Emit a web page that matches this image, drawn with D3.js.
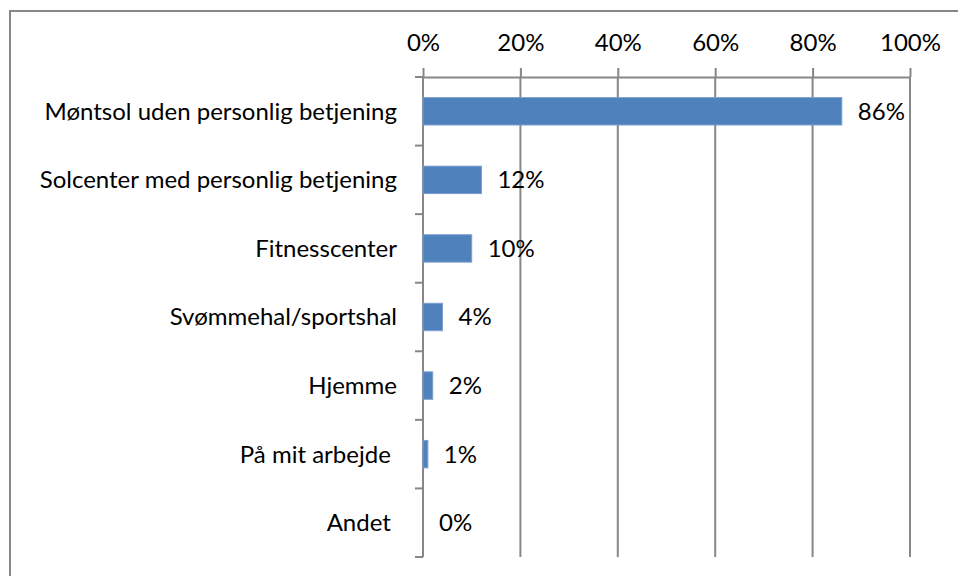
<!DOCTYPE html>
<html>
<head>
<meta charset="utf-8">
<script src="https://cdn.jsdelivr.net/npm/d3@7"></script>
<style>
  body { margin: 0; background: #fff; }
  svg { display: block; font-family: Lato, "Open Sans", sans-serif; }
</style>
</head>
<body>
<svg width="958" height="576"></svg>
<script>
const svg = d3.select('svg');

// data (two labels carry a trailing space, as in the source)
const categories = [
    'Møntsol uden personlig betjening',
    'Solcenter med personlig betjening',
    'Fitnesscenter',
    'Svømmehal/sportshal',
    'Hjemme',
    'På mit arbejde ',
    'Andet '
];
const values = [86, 12, 10, 4, 2, 1, 0];
const tickValues = [0, 20, 40, 60, 80, 100];

const plotLeft = 423, plotRight = 910, plotTop = 77, plotBottom = 557;
const grey = '#878787';
const fontSize = '24px';

// frame (only top and left show in the crop)
svg.append('path')
    .attr('d', 'M10,576V11H958')
    .attr('fill', 'none')
    .attr('stroke', grey)
    .attr('stroke-width', 2);

const x = d3.scaleLinear().domain([0, 100]).range([plotLeft, plotRight]);
const y = d3.scaleBand().domain(categories).range([plotTop, plotBottom])
    .paddingInner(0.6).paddingOuter(0.3);

// gridlines
svg.append('g')
    .selectAll('line')
    .data(tickValues.slice(1))
    .enter()
    .append('line')
        .attr('x1', d => x(d)).attr('x2', d => x(d))
        .attr('y1', plotTop).attr('y2', plotBottom)
        .attr('stroke', grey)
        .attr('stroke-width', 2);

// top axis
const xAxis = svg.append('g')
    .attr('transform', `translate(0,${plotTop})`)
    .call(d3.axisTop(x).tickValues(tickValues).tickFormat(d => d + '%')
        .tickSize(9).tickSizeOuter(0).tickPadding(17));
xAxis.select('.domain').attr('stroke', grey).attr('stroke-width', 2);
xAxis.selectAll('.tick line').attr('stroke', grey).attr('stroke-width', 2);
xAxis.selectAll('.tick text')
    .attr('fill', '#000')
    .style('font-size', fontSize)
    .style('font-family', 'Lato, sans-serif');

// left axis line with ticks between categories
const step = y.step();
svg.append('line')
    .attr('x1', plotLeft).attr('x2', plotLeft)
    .attr('y1', plotTop).attr('y2', plotBottom)
    .attr('stroke', grey).attr('stroke-width', 2);
svg.append('g')
    .selectAll('line')
    .data(d3.range(categories.length + 1))
    .enter()
    .append('line')
        .attr('x1', plotLeft - 8).attr('x2', plotLeft)
        .attr('y1', i => plotTop + i * step).attr('y2', i => plotTop + i * step)
        .attr('stroke', grey).attr('stroke-width', 2);

// category labels
svg.append('g')
    .selectAll('text')
    .data(categories)
    .enter()
    .append('text')
        .attr('x', 397)
        .attr('y', d => y(d) + y.bandwidth() / 2)
        .attr('dy', '0.35em')
        .attr('text-anchor', 'end')
        .style('font-size', fontSize)
        .style('white-space', 'pre')
        .text(d => d);

// bars
svg.append('g')
    .selectAll('rect')
    .data(values)
    .enter()
    .append('rect')
        .attr('x', x(0))
        .attr('y', (d, i) => y(categories[i]))
        .attr('width', d => x(d) - x(0))
        .attr('height', y.bandwidth())
        .attr('fill', '#4f81bd')
        .attr('stroke', d => d > 0 ? '#7c9fcf' : 'none')
        .attr('stroke-width', 1);

// value labels
svg.append('g')
    .selectAll('text')
    .data(values)
    .enter()
    .append('text')
        .attr('x', d => x(d) + 16)
        .attr('y', (d, i) => y(categories[i]) + y.bandwidth() / 2)
        .attr('dy', '0.35em')
        .style('font-size', fontSize)
        .text(d => d + '%');
</script>
</body>
</html>
